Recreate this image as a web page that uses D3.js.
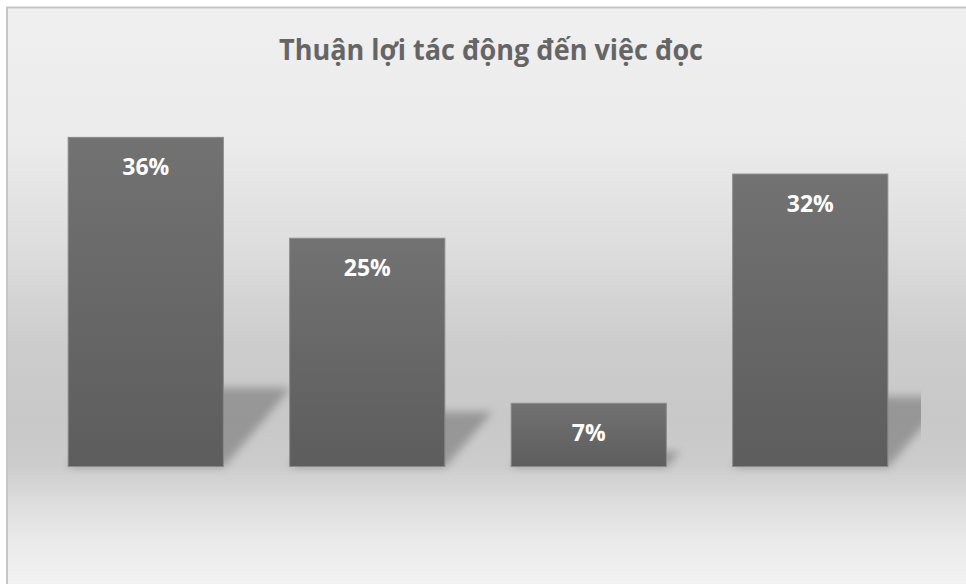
<!DOCTYPE html>
<html>
<head>
<meta charset="utf-8">
<script src="https://cdn.jsdelivr.net/npm/d3@7"></script>
<style>
  html, body { margin: 0; padding: 0; background: #ffffff; }
  svg { display: block; }
</style>
</head>
<body>
<svg id="chart" width="966" height="584"></svg>
<script>
// ---- data ----
const title = "Thuận lợi tác động đến việc đọc";
const categories = ["Thuận lợi 1", "Thuận lợi 2", "Thuận lợi 3", "Thuận lợi 4"];
const values = [0.36, 0.25, 0.07, 0.32];
const labels = ["36%", "25%", "7%", "32%"];

const W = 966, H = 584;
const svg = d3.select("#chart");
const defs = svg.append("defs");

// background gradient
const bg = defs.append("linearGradient").attr("id", "bgGrad")
  .attr("gradientUnits", "userSpaceOnUse")
  .attr("x1", 0).attr("y1", 0).attr("x2", 0).attr("y2", H);
[[0, "#f0f0f0"], [140, "#ebebeb"], [250, "#dddddd"], [340, "#cdcdcd"],
 [420, "#c8c8c8"], [465, "#cccccc"], [500, "#dcdcdc"], [540, "#eaeaea"], [584, "#f2f2f2"]]
  .forEach(([y, c]) => bg.append("stop").attr("offset", (y / H)).attr("stop-color", c));

const barGrad = defs.append("linearGradient").attr("id", "barGrad")
  .attr("x1", 0).attr("y1", 0).attr("x2", 0).attr("y2", 1);
barGrad.append("stop").attr("offset", 0).attr("stop-color", "#727272");
barGrad.append("stop").attr("offset", 1).attr("stop-color", "#5d5d5d");

const blur = defs.append("filter").attr("id", "shBlur")
  .attr("x", -0.4).attr("y", -0.4).attr("width", 1.8).attr("height", 1.8);
blur.append("feGaussianBlur").attr("stdDeviation", 4.5);

// chart area background + border (top/left visible)
svg.append("rect")
  .attr("x", 7).attr("y", 7.5).attr("width", 1200).attr("height", 800)
  .attr("fill", "url(#bgGrad)")
  .attr("stroke", "#c6c6c6").attr("stroke-width", 2);

// scales
const plotLeft = 35, plotRight = 921, baseY = 467, topY = 100.2;
const x = d3.scaleBand().domain(categories).range([plotLeft, plotRight])
  .paddingInner(0.295).paddingOuter(0.1475);
const y = d3.scaleLinear().domain([0, 0.40]).range([baseY, topY]);

defs.append("clipPath").attr("id", "plotClip")
  .append("rect").attr("x", plotLeft).attr("y", 0)
  .attr("width", plotRight - plotLeft).attr("height", H);

// perspective shadows
const data = categories.map((c, i) => ({ c, v: values[i], label: labels[i] }));
svg.append("g").attr("clip-path", "url(#plotClip)")
  .selectAll("path").data(data).join("path")
  .attr("d", d => {
    const x0 = x(d.c), x1 = x(d.c) + x.bandwidth();
    const h = y(0) - y(d.v);
    const sh = 0.24 * h, dx = 0.85 * sh;
    return `M${x0},${y(0)}L${x1},${y(0)}L${x1 + dx},${y(0) - sh}L${x0 + dx},${y(0) - sh}Z`;
  })
  .attr("fill", "#000").attr("fill-opacity", 0.25)
  .attr("filter", "url(#shBlur)");

// bars
svg.append("g").selectAll("rect").data(data).join("rect")
  .attr("x", d => x(d.c) + 0.5)
  .attr("y", d => y(d.v) + 0.5)
  .attr("width", x.bandwidth() - 1)
  .attr("height", d => y(0) - y(d.v) - 1)
  .attr("fill", "url(#barGrad)")
  .attr("stroke", "#8a8a8a").attr("stroke-width", 1);

// value labels
svg.append("g").selectAll("text").data(data).join("text")
  .attr("x", d => x(d.c) + x.bandwidth() / 2)
  .attr("y", d => y(d.v) + 38)
  .attr("text-anchor", "middle")
  .attr("font-family", "'Open Sans', 'DejaVu Sans', sans-serif")
  .attr("font-weight", 700)
  .attr("font-size", 23)
  .attr("fill", "#ffffff")
  .text(d => d.label);

// title
svg.append("text")
  .attr("x", 491).attr("y", 59.5)
  .attr("text-anchor", "middle")
  .attr("font-family", "'Open Sans', 'DejaVu Sans', sans-serif")
  .attr("font-weight", 700)
  .attr("font-size", 28)
  .attr("fill", "#656565")
  .attr("textLength", 424)
  .attr("lengthAdjust", "spacingAndGlyphs")
  .text(title);
</script>
</body>
</html>
